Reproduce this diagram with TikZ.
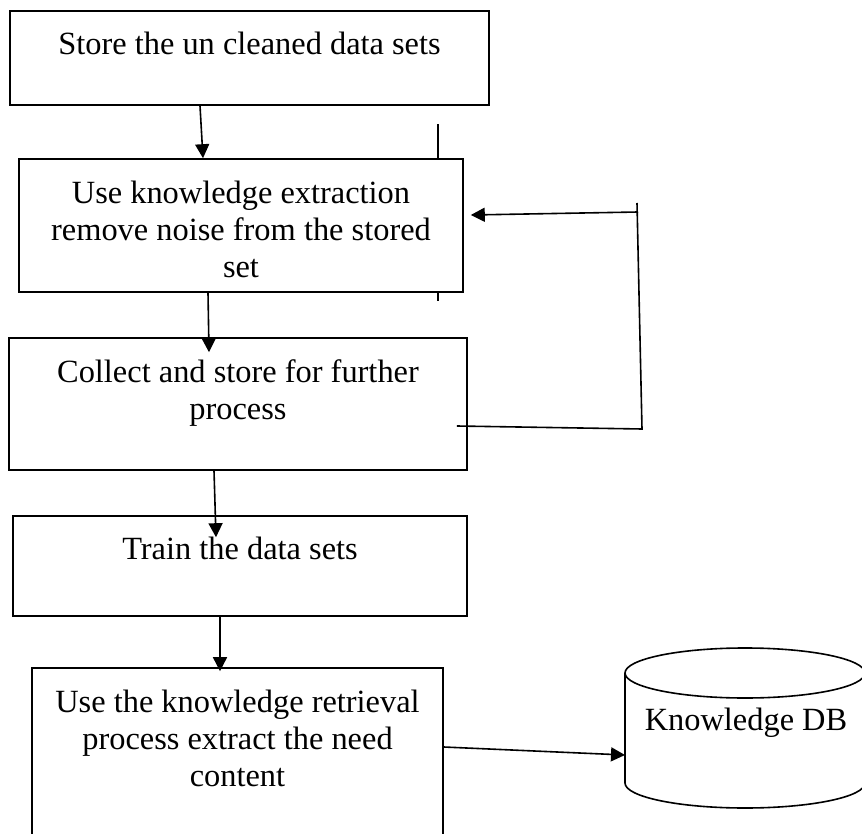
\documentclass[tikz,border=0pt]{standalone}
\usepackage{fontspec}
\setmainfont{Liberation Serif}
\usetikzlibrary{arrows.meta,calc}
\begin{document}
\begin{tikzpicture}[x=0.5pt,y=-0.5pt,line width=0.8pt,
  box/.style={draw,inner sep=0pt},
  txt/.style={anchor=north,inner sep=0pt,align=center,font=\fontsize{16.2}{18.4}\selectfont},
  arr/.style={-{Triangle[length=7pt,width=7pt]}}]
\useasboundingbox (0,0) rectangle (862,834);
\clip (0,0) rectangle (862,834);
\node[box,minimum width=239.5pt,minimum height=47pt] (store) at (249.5,58) {};
\node[box,minimum width=222pt,minimum height=66.5pt] (extract) at (241,225.5) {};
\node[box,minimum width=229pt,minimum height=66pt] (collect) at (238,404) {};
\node[box,minimum width=227pt,minimum height=50pt] (train) at (240,566) {};
\node[box,minimum width=205.5pt,minimum height=96pt] (retrieve) at (237.5,764) {};
\node[txt] (storetxt) at ($(store.north)+(0,21)$) {Store the un cleaned data sets};
\node[txt] (extracttxt) at ($(extract.north)+(0,22)$) {Use knowledge extraction\\remove noise from the stored\\set};
\node[txt] (collecttxt) at ($(collect.north)+(0,22)$) {Collect and store for further\\process};
\node[txt] (traintxt) at ($(train.north)+(0,21)$) {Train the data sets};
\node[txt] (retrievetxt) at ($(retrieve.north)+(0,22)$) {Use the knowledge retrieval\\process extract the need\\content};
\node[txt,anchor=center] (db) at (746,723) {Knowledge DB};
\draw (745,673) ellipse [x radius=120,y radius=25];
\draw (625,673) -- (625,783) arc [start angle=180,end angle=0,x radius=120,y radius=25] -- (865,673);
\coordinate (dbin) at (625,755);
\coordinate (loopdown) at (642,429);
\coordinate (looptop) at (637,203);
\coordinate (loopturn) at (638,212);
\draw[arr] ($(store.south)+(-49.5,0)$) -- ($(extract.north)+(-38,0)$);
\draw[arr] ($(extract.south)+(-33,0)$) -- ($(collect.north)+(-29,15)$);
\draw[arr] ($(collect.south)+(-24,0)$) -- ($(train.north)+(-24,22)$);
\draw[arr] ($(train.south)+(-20,0)$) -- ($(retrieve.north)+(-17.5,4)$);
\draw[arr] ($(retrieve.east)+(0,-17)$) -- (dbin);
\draw ($(collect.east)+(-11,22)$) -- (loopdown) -- (looptop);
\draw[arr] (loopturn) -- ($(extract.east)+(7,-10.5)$);
\draw ($(extract.north)+(197,-34)$) -- ($(extract.north)+(197,0)$);
\draw ($(extract.south)+(197,0)$) -- ($(extract.south)+(197,8)$);
\end{tikzpicture}
\end{document}
